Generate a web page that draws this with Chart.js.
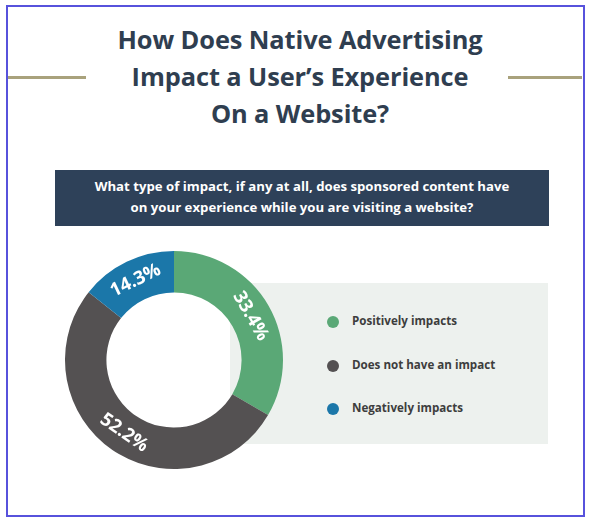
<!DOCTYPE html>
<html>
<head>
<meta charset="utf-8">
<script src="https://cdn.jsdelivr.net/npm/chart.js@4.4.1/dist/chart.umd.min.js"></script>
<style>
  html, body { margin: 0; padding: 0; background: #fff; }
  body { width: 591px; height: 523px; position: relative; overflow: hidden; font-family: "Open Sans", sans-serif; }
  #frame { position: absolute; left: 6px; top: 5px; width: 575px; height: 508px; border: 2px solid #5752dc; }
  .rule { position: absolute; top: 76px; height: 3px; background: #a9a27c; }
  #title { position: absolute; left: 0; width: 600px; top: 21px; text-align: center; color: #2f3e50; font-weight: 700; font-size: 25.4px; line-height: 37px; letter-spacing: -0.1px; }
  #banner { position: absolute; left: 55px; top: 170px; width: 494px; height: 56px; background: #2e4159; color: #fff; font-weight: 700; font-size: 13.2px; line-height: 21px; text-align: center; box-sizing: border-box; padding-top: 6px; }
  #panel { position: absolute; left: 230px; top: 283px; width: 318px; height: 161px; background: #edf1ee; }
  #wrap { position: absolute; left: 64px; top: 250px; width: 220px; height: 220px; }
  #legend { position: absolute; left: 327px; top: 313px; }
  .item { height: 43.5px; display: flex; align-items: flex-start; color: #3d3d3d; font-weight: 700; font-size: 11.6px; }
  .dot { width: 12px; height: 12px; border-radius: 50%; margin-right: 13px; margin-top: 3px; }
</style>
</head>
<body>
<div id="frame"></div>
<div class="rule" style="left:8px;width:78px"></div>
<div class="rule" style="left:508px;width:74px"></div>
<div id="title">How Does Native Advertising<br>Impact a User’s Experience<br>On a Website?</div>
<div id="banner">What type of impact, if any at all, does sponsored content have<br>on your experience while you are visiting a website?</div>
<div id="panel"></div>
<div id="wrap"><canvas id="impactChart"></canvas></div>
<div id="legend"></div>
<script>
const categories = ["Positively impacts", "Does not have an impact", "Negatively impacts"];
const shares = [33.4, 52.2, 14.3];
const labels = ["33.4%", "52.2%", "14.3%"];
const colors = ["#5aa876", "#545152", "#1b77a9"];

// legend from the same arrays
const legend = document.getElementById("legend");
categories.forEach(function (name, i) {
  const row = document.createElement("div");
  row.className = "item";
  row.innerHTML = '<span class="dot" style="background:' + colors[i] + '"></span>' + name;
  legend.appendChild(row);
});

// write the percentages along the ring
const ringLabels = {
  id: "ringLabels",
  afterDatasetsDraw(chart) {
    const ctx = chart.ctx;
    const meta = chart.getDatasetMeta(0);
    ctx.save();
    ctx.fillStyle = "#fff";
    ctx.font = "700 18.5px 'Open Sans'";
    ctx.textAlign = "center";
    ctx.textBaseline = "middle";
    meta.data.forEach(function (arc, i) {
      const mid = (arc.startAngle + arc.endAngle) / 2;
      const r = (arc.innerRadius + arc.outerRadius) / 2;
      const x = arc.x + Math.cos(mid) * r;
      const y = arc.y + Math.sin(mid) * r;
      let rot = mid + Math.PI / 2;
      if (Math.cos(rot) < 0) rot += Math.PI;
      ctx.translate(x, y);
      ctx.rotate(rot);
      ctx.fillText(labels[i], 0, 0);
      ctx.setTransform(1, 0, 0, 1, 0, 0);
      ctx.scale(chart.currentDevicePixelRatio, chart.currentDevicePixelRatio);
    });
    ctx.restore();
  }
};

const ctx = document.getElementById("impactChart").getContext("2d");
new Chart(ctx, {
  type: "doughnut",
  data: {
    labels: categories,
    datasets: [{
      data: shares,
      backgroundColor: colors,
      borderWidth: 0
    }]
  },
  options: {
    responsive: true,
    maintainAspectRatio: false,
    animation: false,
    cutout: "62%",
    layout: { padding: 1 },
    plugins: {
      legend: { display: false },
      tooltip: { enabled: false }
    }
  },
  plugins: [ringLabels]
});
</script>
</body>
</html>
